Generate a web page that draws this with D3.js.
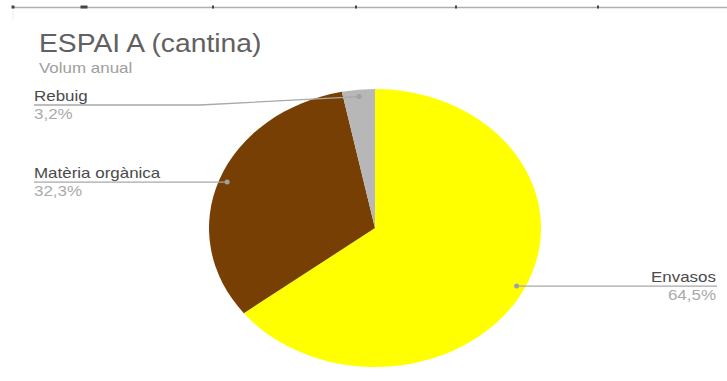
<!DOCTYPE html>
<html lang="ca">
<head>
  <meta charset="UTF-8">
  <title>ESPAI A (cantina)</title>
  <script src="https://d3js.org/d3.v7.min.js"></script>
  <style>
    body { margin: 0; background: #fff; }
    svg { display: block; font-family: Arial, "Liberation Sans", sans-serif; }
  </style>
</head>
<body>
  <svg id="chart"></svg>

  <script>
    // data
    const categories = ["Envasos", "Matèria orgànica", "Rebuig"];
    const values = [64.5, 32.3, 3.2];
    const percentLabels = ["64,5%", "32,3%", "3,2%"];
    const colors = ["#ffff00", "#783f04", "#b7b7b7"];

    const width = 727, height = 381;
    const cx = 375, cy = 228, rx = 166, ry = 139;
    const sx = 1.13; // screenshot is stretched horizontally

    const svg = d3.select("#chart")
      .attr("width", width)
      .attr("height", height);

    // ruler line at the very top of the screenshot
    svg.append("line")
      .attr("x1", 12).attr("x2", width)
      .attr("y1", 7.5).attr("y2", 7.5)
      .attr("stroke", "#b0b0b0").attr("stroke-width", 1.5);
    svg.append("line")
      .attr("x1", 13).attr("x2", 13)
      .attr("y1", 8).attr("y2", 20)
      .attr("stroke", "#eee");
    svg.selectAll("rect.tick")
      .data([[13, 3], [84, 7], [213, 2], [356, 2], [456, 2], [598, 2]])
      .join("rect")
      .attr("class", "tick")
      .attr("x", d => d[0] - d[1] / 2).attr("y", 5.5)
      .attr("width", d => d[1]).attr("height", 3)
      .attr("fill", "#444");

    function addText(x, y, txt, size, color, anchor) {
      return svg.append("text")
        .attr("transform", `translate(${x},${y}) scale(${sx},1)`)
        .attr("text-anchor", anchor || "start")
        .attr("font-size", size)
        .attr("fill", color)
        .text(txt);
    }

    addText(39, 52, "ESPAI A (cantina)", 25, "#616161");
    addText(39, 73, "Volum anual", 15, "#9e9e9e");

    const pie = d3.pie().sort(null).value(d => d);
    const arcs = pie(values);

    const arc = d3.arc().innerRadius(0).outerRadius(ry);
    const dotArc = d3.arc().innerRadius(ry * 0.95).outerRadius(ry * 0.95);

    const pieG = svg.append("g")
      .attr("transform", `translate(${cx},${cy}) scale(${rx / ry},1)`);

    pieG.selectAll("path")
      .data(arcs)
      .join("path")
      .attr("d", arc)
      .attr("fill", (d, i) => colors[i]);

    // labels: left side labels anchored at x=34, right side ends at x=716
    const lineY = { 0: null, 1: null, 2: 105 };
    const lines = svg.append("g");

    arcs.forEach((a, i) => {
      const c = dotArc.centroid(a);
      const px = cx + c[0] * rx / ry, py = cy + c[1];
      const ly = lineY[i] == null ? py : lineY[i];
      const right = px > cx;

      if (right) {
        lines.append("line")
          .attr("x1", px).attr("y1", py).attr("x2", 717).attr("y2", ly)
          .attr("stroke", "#a8a8a8").attr("stroke-width", 1.3);
        addText(716, ly - 4.5, categories[i], 15, "#4a4a4a", "end");
        addText(716, ly + 13.5, percentLabels[i], 15, "#aaaaaa", "end");
      } else {
        const kink = ly !== py ? 200 : px;
        lines.append("polyline")
          .attr("points", `${px},${py} ${kink},${ly} 34,${ly}`)
          .attr("fill", "none")
          .attr("stroke", "#a8a8a8").attr("stroke-width", 1.3);
        addText(34, ly - 4.5, categories[i], 15, "#4a4a4a");
        addText(34, ly + 13.5, percentLabels[i], 15, "#aaaaaa");
      }
      lines.append("circle")
        .attr("cx", px).attr("cy", py).attr("r", 2.5)
        .attr("fill", "#a0a0a0");
    });
  </script>
</body>
</html>
